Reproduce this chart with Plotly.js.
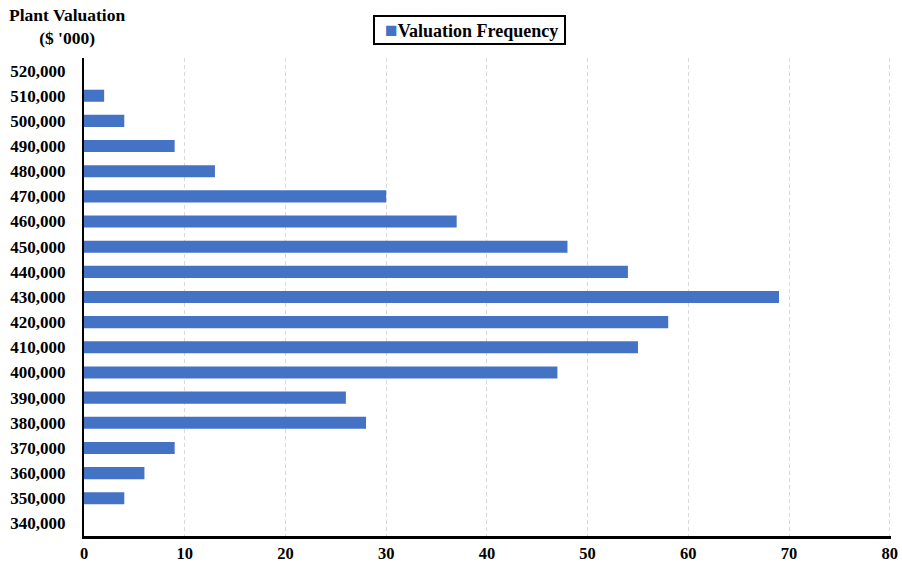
<!DOCTYPE html>
<html>
<head>
<meta charset="utf-8">
<script src="https://cdn.plot.ly/plotly-3.0.1.min.js"></script>
<style>html,body{margin:0;padding:0;background:#fff;}#chart{width:902px;height:565px;}</style>
</head>
<body>
<div id="chart"></div>
<script>
const categories = ["340,000","350,000","360,000","370,000","380,000","390,000","400,000","410,000","420,000","430,000","440,000","450,000","460,000","470,000","480,000","490,000","500,000","510,000","520,000"];
const frequency = [0, 4, 6, 9, 28, 26, 47, 55, 58, 69, 54, 48, 37, 30, 13, 9, 4, 2, 0];
const xTicks = [0, 10, 20, 30, 40, 50, 60, 70, 80];
const seriesName = "Valuation Frequency";
const barColor = "#4472C4";

const font = {family: "Liberation Serif, Times New Roman, serif", color: "#000"};

const trace = {
  type: "bar",
  orientation: "h",
  y: categories,
  x: frequency,
  name: seriesName,
  width: 0.48,
  marker: {color: barColor, line: {width: 0}},
  showlegend: false
};

const layout = {
  width: 902, height: 565,
  margin: {l: 84, r: 11, t: 58, b: 29},
  paper_bgcolor: "#fff", plot_bgcolor: "#fff",
  font: Object.assign({size: 16}, font),
  showlegend: false,
  xaxis: {
    range: [0, 80.12],
    tickvals: xTicks,
    ticktext: xTicks.map(String),
    showgrid: true, gridcolor: "#d9d9d9", griddash: "4px,3px", gridwidth: 1,
    zeroline: false,
    showline: true, linecolor: "#000", linewidth: 3,
    ticks: "", ticklen: 0,
    ticklabelstandoff: 0,
    tickfont: Object.assign({size: 16.5}, font, {weight: "bold"}),
    fixedrange: true
  },
  yaxis: {
    type: "category",
    categoryorder: "array", categoryarray: categories,
    range: [-0.5, categories.length - 0.5],
    showgrid: false, zeroline: false,
    showline: true, linecolor: "#000", linewidth: 2,
    ticks: "", ticklen: 0,
    ticklabelstandoff: 13,
    tickfont: Object.assign({size: 17}, font, {weight: "bold"}),
    fixedrange: true
  },
  annotations: [{
    xref: "paper", yref: "paper",
    x: -0.021, y: 1.0, xanchor: "center", yanchor: "bottom",
    yshift: 8,
    text: "<b>Plant Valuation</b><br><b>($ '000)</b>",
    showarrow: false, align: "center",
    font: Object.assign({size: 17.5}, font)
  }, {
    xref: "paper", yref: "paper",
    x: 0.4775, y: 1.0, xanchor: "center", yanchor: "bottom",
    yshift: 13,
    text: "\u00a0\u00a0<span style='color:" + barColor + ";font-size:21px'>■</span><b>" + seriesName + "</b>\u00a0",
    showarrow: false,
    bordercolor: "#000", borderwidth: 2, borderpad: 1,
    bgcolor: "#fff",
    font: Object.assign({size: 18}, font)
  }]
};

Plotly.newPlot("chart", [trace], layout, {displayModeBar: false, staticPlot: true});
</script>
</body>
</html>
